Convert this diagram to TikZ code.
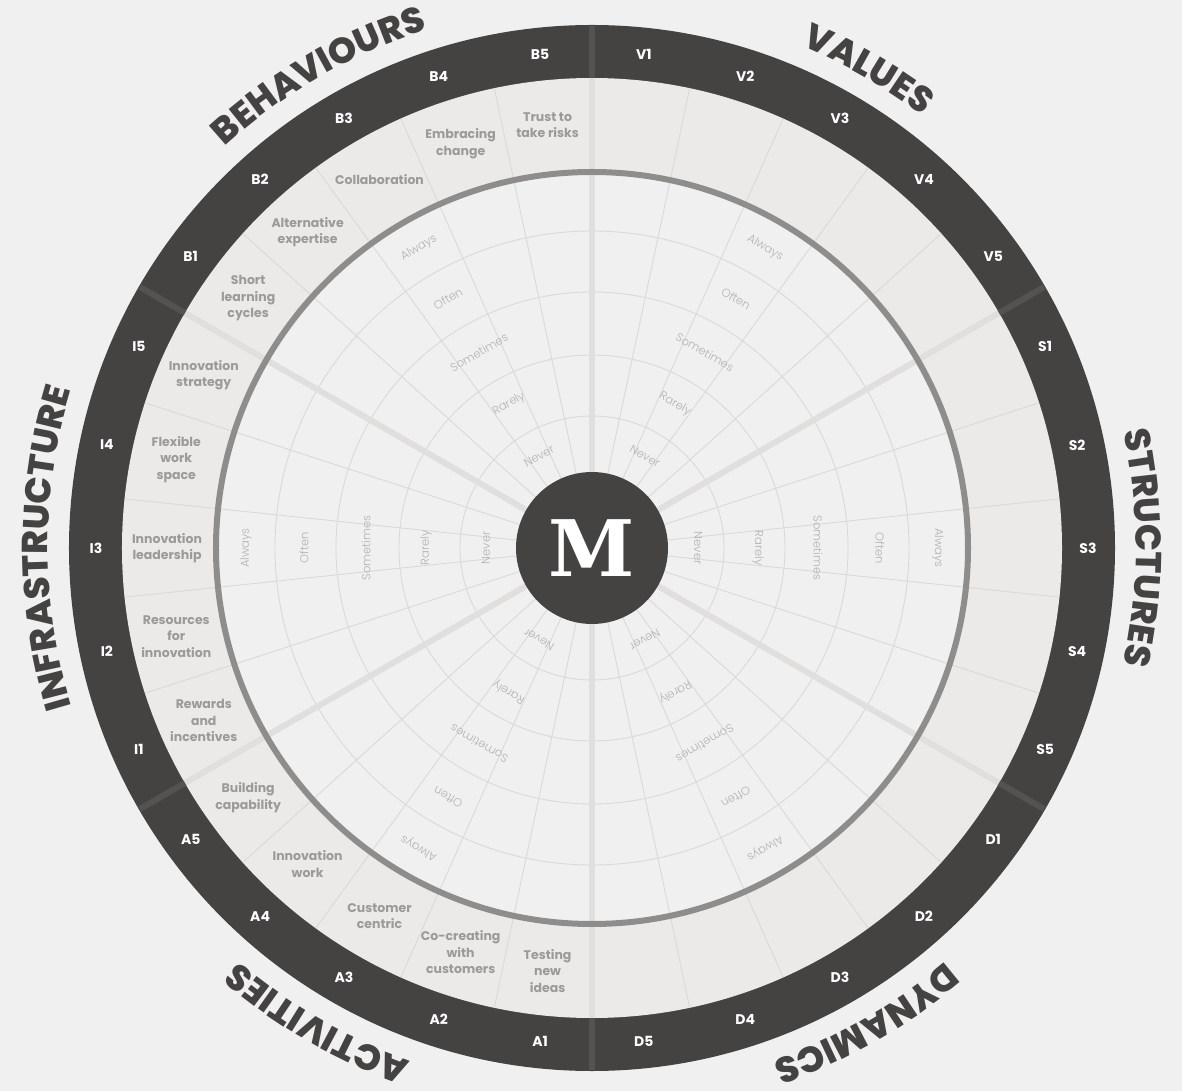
\documentclass[tikz,border=0pt]{standalone}
\usepackage{fontspec}
\setmainfont{Poppins}
\newfontfamily\lightf{Poppins Light}
\newfontfamily\heavyf{Poppins ExtraBold}
\newfontfamily\slabf{DejaVu Serif}
\usetikzlibrary{decorations.text}
\definecolor{bg}{HTML}{F0F0F0}
\definecolor{band}{HTML}{EBEAE8}
\definecolor{dark}{HTML}{454341}
\definecolor{gline}{HTML}{8E8D8C}
\definecolor{thinl}{HTML}{DAD9D8}
\definecolor{sep}{HTML}{E0DFDE}
\definecolor{sepdark}{HTML}{555351}
\definecolor{itemtxt}{HTML}{9B9A99}
\definecolor{lvltxt}{HTML}{B2B2B2}
\newcommand\catfont{\heavyf\fontsize{36}{36}\selectfont\color{dark}}
\begin{document}
\begin{tikzpicture}[x=1pt,y=1pt,
  itemlbl/.style={font=\bfseries\fontsize{12.5}{16.5}\selectfont, text=itemtxt, align=center, inner sep=0},
  numlbl/.style={font=\bfseries\fontsize{14}{14}\selectfont, text=white, inner sep=0},
  lvl/.style={font=\lightf\fontsize{11.5}{12}\selectfont, text=lvltxt, inner sep=0},
  thinline/.style={draw=thinl, line width=0.9},
  sepline/.style={draw=sep, line width=6},
  sepdarkline/.style={draw=sepdark, line width=6},
  cattext/.style={decorate, decoration={text along path, text align=center}}]
\useasboundingbox (-592,-543) rectangle (590,548);
\fill[bg] (-592,-543) rectangle (590,548);
% outer dark ring and band
\fill[dark] (0,0) circle[radius=523];
\fill[band] (0,0) circle[radius=470];
\fill[bg] (0,0) circle[radius=376];
% level rings
\foreach \r in {132,193,256,317} \draw[thinline] (0,0) circle[radius=\r];
% thin radial lines
\foreach \c in {90,30,-30,-90,-150,-210}
  \foreach \s in {12,24,36,48}
    \draw[thinline] ({\c-\s}:76) -- ({\c-\s}:470);
% category separators
\foreach \c in {90,30,-30,-90,-150,150} {
  \draw[sepline] (\c:76) -- (\c:470);
  \draw[sepdarkline] (\c:470) -- (\c:522);
}
% main gray circle
\draw[gline, line width=6] (0,0) circle[radius=376];
% centre
\node[circle, fill=dark, minimum size=152, inner sep=0] (centre) at (0,0) {};
\node[text=white, font=\slabf\bfseries\fontsize{78}{78}\selectfont, inner sep=0] (mletter) at (0,0) {M};
% level labels
\foreach \c in {120,60,0,-60,-120,180}
  \foreach \r/\t in {106/Never,166/Rarely,226/Sometimes,288/Often,346/Always}
    \node[lvl, rotate=\c-90] (lv\c\t) at (\c:\r) {\t};
% numbers in dark ring
\foreach \a/\t in {144/B1,132/B2,120/B3,108/B4,96/B5,
                   84/V1,72/V2,60/V3,48/V4,36/V5,
                   24/S1,12/S2,0/S3,-12/S4,-24/S5,
                   -36/D1,-48/D2,-60/D3,-72/D4,-84/D5,
                   -96/A1,-108/A2,-120/A3,-132/A4,-144/A5,
                   -156/I1,-168/I2,180/I3,168/I4,156/I5}
  \node[numlbl] (num\t) at (\a:496) {\t};
% item labels
\foreach \a/\t/\n in {144/{Short\\learning\\cycles}/b1,
                      132/{Alternative\\expertise}/b2,
                      120/{Collaboration}/b3,
                      108/{Embracing\\change}/b4,
                      96/{Trust to\\take risks}/b5,
                      204/{Rewards\\and\\incentives}/i1,
                      192/{Resources\\for\\innovation}/i2,
                      180/{Innovation\\leadership}/i3,
                      168/{Flexible\\work\\space}/i4,
                      156/{Innovation\\strategy}/i5,
                      264/{Testing\\new\\ideas}/a1,
                      252/{Co-creating\\with\\customers}/a2,
                      240/{Customer\\centric}/a3,
                      228/{Innovation\\work}/a4,
                      216/{Building\\capability}/a5}
  \node[itemlbl] (item\n) at (\a:425) {\t};
% category titles
\path[cattext, decoration={text={|\catfont|BEHAVIOURS}}] (170:544) arc[start angle=170, end angle=70, radius=544];
\path[cattext, decoration={text={|\catfont|VALUES}}] (110:544) arc[start angle=110, end angle=10, radius=544];
\path[cattext, decoration={text={|\catfont|STRUCTURES}}] (50:544) arc[start angle=50, end angle=-50, radius=544];
\path[cattext, decoration={text={|\catfont|DYNAMICS}}] (-10:544) arc[start angle=-10, end angle=-110, radius=544];
\path[cattext, decoration={text={|\catfont|ACTIVITIES}}] (-70:544) arc[start angle=-70, end angle=-170, radius=544];
\path[cattext, decoration={text={|\catfont|INFRASTRUCTURE}}] (240:544) arc[start angle=240, end angle=120, radius=544];
\end{tikzpicture}
\end{document}
